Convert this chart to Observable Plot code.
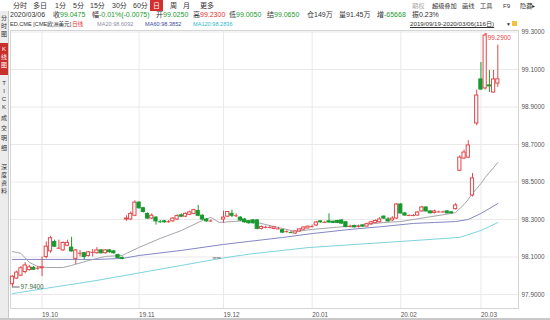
<!DOCTYPE html>
<html><head><meta charset="utf-8">
<script src="https://cdn.jsdelivr.net/npm/d3@7"></script>
<script src="https://cdn.jsdelivr.net/npm/@observablehq/plot@0.6"></script>
<style>
html,body{margin:0;padding:0}
body{width:550px;height:320px;overflow:hidden;background:#fff;position:relative;font-family:"Liberation Sans","Noto Sans CJK SC",sans-serif}
.t{position:absolute;font-size:7px;line-height:8px;white-space:nowrap;color:#333}
.s{font-size:6.2px}
.m{font-size:5.6px}
.g{color:#1a9a2e}.r{color:#e0302e}
#side{position:absolute;left:0;top:11px;width:8px;height:309px;background:#ececec;border-right:1px solid #c8c8c8}
.sv{position:absolute;left:0;width:8px;font-size:6px;line-height:8px;text-align:center;color:#333}
#chart{position:absolute;left:0;top:20px}
#bot{position:absolute;left:0;top:318px;width:550px;height:2px;background:#c8c8c8}
</style></head><body>
<div class="t" style="left:13px;top:2px">分时</div>
<div class="t" style="left:33px;top:2px">多日</div>
<div class="t" style="left:55px;top:2px">1分</div>
<div class="t" style="left:73px;top:2px">5分</div>
<div class="t" style="left:90px;top:2px">15分</div>
<div class="t" style="left:112px;top:2px">30分</div>
<div class="t" style="left:133px;top:2px">60分</div>
<div class="t" style="left:150px;top:0px;width:13px;height:11px;line-height:11px;text-align:center;background:#d42f2f;color:#fff">日</div>
<div class="t" style="left:170px;top:2px">周</div>
<div class="t" style="left:183px;top:2px">月</div>
<div class="t" style="left:200px;top:2px">更多</div>
<div class="t s" style="left:412px;top:2px;color:#aaa">期权</div>
<div class="t s" style="left:432px;top:2px">超级叠加</div>
<div class="t s" style="left:462px;top:2px">画线</div>
<div class="t s" style="left:480px;top:2px">工具</div>
<div class="t s" style="left:503px;top:2px">F9</div>
<div class="t s" style="left:520px;top:2px">隐藏▸</div>

<div class="t" style="left:10px;top:11px">2020/03/06</div>
<div class="t" style="left:53px;top:11px">收<span class="g">99.0475</span></div>
<div class="t" style="left:92px;top:11px">幅<span class="g">-0.01%(-0.0075)</span></div>
<div class="t" style="left:156px;top:11px">开<span class="g">99.0250</span></div>
<div class="t" style="left:193px;top:11px">高<span class="r">99.2300</span></div>
<div class="t" style="left:229px;top:11px">低<span class="g">99.0050</span></div>
<div class="t" style="left:267px;top:11px">结<span class="g">99.0650</span></div>
<div class="t" style="left:307px;top:11px">仓149万</div>
<div class="t" style="left:339px;top:11px">量91.45万</div>
<div class="t" style="left:377px;top:11px">增<span class="g">-65668</span></div>
<div class="t" style="left:412px;top:11px">振0.23%</div>

<div class="t m" style="left:10px;top:20px">ED.CME [CME欧洲美元]</div>
<div class="t m r" style="left:72px;top:20px">日线</div>
<div class="t m" style="left:97px;top:20px;color:#8c8ca8">MA20:98.6092</div>
<div class="t m" style="left:145px;top:20px;color:#3c48a8">MA60:98.3852</div>
<div class="t m" style="left:193px;top:20px;color:#2cb8cc">MA120:98.2836</div>
<div class="t" style="left:410px;top:20px;font-size:6.2px;text-decoration:underline">2019/09/19-2020/03/06(116日)</div>
<div class="t" style="left:506px;top:20px;font-size:5px">▼</div>
<div style="position:absolute;left:512px;top:21px;width:5px;height:5px;background:#f2c23c"></div>

<div id="side">
<div class="sv" style="top:3px">分<br>时<br>图</div>
<div class="sv" style="top:32px;height:30px;padding-top:2px;background:#c8312b;color:#fff">K<br>线<br>图</div>
<div class="sv" style="top:68px">T<br>I<br>C<br>K</div>
<div class="sv" style="top:102px;line-height:10px">成<br>交<br>明<br>细</div>
<div class="sv" style="top:152px">深<br>度<br>资<br>料</div>
</div>
<div id="chart"></div>
<div id="bot"></div>
<script>
// daily candles 2019/09/19 - 2020/03/06 (116 sessions), index 0..115
const open  = [97.955,97.985,98.000,98.020,98.030,98.042,98.040,98.040,98.100,98.130,
98.180,98.145,98.135,98.160,98.150,98.090,98.120,98.120,98.105,98.125,
98.120,98.135,98.120,98.135,98.130,98.110,98.095,98.300,98.300,98.320,
98.390,98.360,98.330,98.305,98.310,98.290,98.290,98.288,98.290,98.300,
98.322,98.315,98.325,98.330,98.345,98.320,98.300,98.292,98.095,98.095,
98.300,98.315,98.330,98.320,98.310,98.300,98.290,98.295,98.295,98.250,
98.258,98.258,98.250,98.250,98.243,98.235,98.232,98.225,98.236,98.246,
98.252,98.262,98.268,98.290,98.285,98.290,98.288,98.292,98.295,98.285,
98.263,98.265,98.262,98.268,98.262,98.275,98.282,98.285,98.315,98.300,
98.295,98.305,98.380,98.332,98.320,98.320,98.321,98.343,98.364,98.343,
98.335,98.340,98.340,98.343,98.338,98.355,98.560,98.625,98.630,98.428,
98.812,99.047,98.999,99.015,98.977,99.025];
const high  = [98.000,98.025,98.050,98.070,98.055,98.050,98.050,98.100,98.180,98.210,
98.190,98.190,98.180,98.190,98.205,98.140,98.135,98.125,98.130,98.140,
98.150,98.140,98.140,98.140,98.135,98.115,98.100,98.320,98.340,98.400,
98.395,98.365,98.335,98.330,98.315,98.295,98.295,98.295,98.310,98.325,
98.330,98.335,98.345,98.355,98.375,98.325,98.305,98.298,98.095,98.095,
98.345,98.340,98.350,98.330,98.315,98.305,98.295,98.300,98.300,98.265,
98.265,98.265,98.262,98.258,98.248,98.240,98.236,98.240,98.250,98.260,
98.265,98.270,98.290,98.292,98.290,98.330,98.292,98.296,98.298,98.290,
98.270,98.270,98.270,98.272,98.280,98.290,98.298,98.310,98.320,98.310,
98.315,98.385,98.385,98.338,98.325,98.326,98.342,98.370,98.368,98.346,
98.350,98.345,98.345,98.346,98.341,98.385,98.640,98.670,98.720,98.545,
98.990,99.137,99.290,99.095,99.095,99.230];
const low   = [97.940,97.980,97.995,98.010,98.025,98.030,98.030,97.995,98.090,98.120,
98.150,98.140,98.130,98.155,98.125,98.060,98.100,98.085,98.100,98.100,
98.115,98.115,98.115,98.120,98.115,98.090,98.085,98.290,98.295,98.315,
98.355,98.335,98.300,98.300,98.270,98.280,98.280,98.280,98.285,98.295,
98.310,98.310,98.320,98.325,98.315,98.295,98.285,98.285,98.095,98.095,
98.280,98.310,98.310,98.310,98.290,98.280,98.275,98.275,98.245,98.245,
98.250,98.250,98.245,98.245,98.225,98.228,98.225,98.220,98.232,98.242,
98.250,98.255,98.262,98.280,98.280,98.280,98.278,98.278,98.275,98.255,
98.255,98.255,98.255,98.258,98.260,98.270,98.280,98.282,98.300,98.285,
98.290,98.300,98.330,98.318,98.315,98.315,98.318,98.340,98.340,98.330,
98.330,98.335,98.335,98.330,98.330,98.350,98.555,98.620,98.625,98.420,
98.800,98.990,98.990,98.977,98.975,99.005];
const close = [97.995,98.017,98.040,98.055,98.045,98.032,98.040,98.045,98.155,98.200,
98.155,98.147,98.175,98.175,98.130,98.135,98.120,98.100,98.125,98.125,
98.135,98.120,98.135,98.125,98.120,98.095,98.090,98.305,98.330,98.390,
98.360,98.340,98.305,98.320,98.290,98.288,98.285,98.288,98.305,98.318,
98.315,98.330,98.338,98.350,98.320,98.300,98.290,98.292,98.095,98.095,
98.310,98.340,98.320,98.320,98.295,98.285,98.280,98.280,98.250,98.260,
98.258,98.258,98.258,98.250,98.230,98.235,98.230,98.236,98.247,98.257,
98.262,98.262,98.284,98.285,98.285,98.284,98.282,98.282,98.278,98.260,
98.263,98.258,98.262,98.262,98.275,98.285,98.292,98.300,98.305,98.290,
98.305,98.380,98.332,98.321,98.321,98.321,98.337,98.364,98.343,98.333,
98.343,98.340,98.340,98.333,98.333,98.375,98.630,98.657,98.695,98.519,
98.961,98.993,99.281,99.010,99.047,99.0475];

const monthIdx = [7, 30, 50, 71, 92, 111];
const monthLabels = ["19.10","19.11","19.12","20.01","20.02","20.03"];
const yTicks = [97.9, 98.1, 98.3, 98.5, 98.7, 98.9, 99.1, 99.3];

// moving averages (index, value)
const ma20Idx = [0,2,4,6,8,12,14,18,22,26,27,30,35,40,45,47,49,52,56,60,64,67,71,76,82,88,92,98,104,105,106,107,108,109,110,111,112,113,114,115];
const ma20    = [98.129,98.119,98.071,98.049,98.044,98.044,98.055,98.081,98.103,98.108,98.119,98.151,98.199,98.241,98.295,98.311,98.284,98.289,98.295,98.273,98.252,98.236,98.247,98.257,98.268,98.284,98.289,98.311,98.332,98.337,98.359,98.380,98.407,98.439,98.465,98.492,98.524,98.551,98.577,98.604];
const ma60Idx = [0,10,20,26,30,40,50,56,64,71,80,88,95,100,105,108,111,115];
const ma60    = [98.087,98.087,98.087,98.092,98.108,98.135,98.167,98.183,98.204,98.225,98.247,98.263,98.279,98.284,98.289,98.300,98.332,98.385];
const ma120Idx = [0,10,20,30,40,50,56,70,90,100,106,111,115];
const ma120    = [97.905,97.940,97.975,98.015,98.055,98.095,98.115,98.150,98.180,98.195,98.205,98.241,98.284];

const UP = "#e2474a", DOWN = "#17992d", FLAT = "#666";
const bars = open.map((o, i) => ({i, o, h: high[i], l: low[i], c: close[i]}));
const isDoji = d => Math.abs(d.c - d.o) < 0.003;
const col = d => d.h === d.l ? FLAT : d.c > d.o ? UP : d.c < d.o ? DOWN : UP;
const bodies = bars.filter(d => !isDoji(d));
const dojis = bars.filter(isDoji);
const hiI = d3.maxIndex(high), loI = d3.minIndex(low);
const line = (idx, vals) => idx.map((x, k) => ({x, v: vals[k]}));

const chart = Plot.plot({
  width: 550, height: 300,
  marginLeft: 10, marginRight: 32, marginTop: 10, marginBottom: 12,
  x: {domain: [-0.474, 119.9], axis: null},
  y: {domain: [97.8253, 99.308], axis: null},
  style: {fontFamily: "'Liberation Sans','Noto Sans CJK SC',sans-serif", background: "transparent", overflow: "visible"},
  marks: [
    Plot.gridY(yTicks, {stroke: "#e9e9e9", strokeOpacity: 1}),
    Plot.gridX(monthIdx, {stroke: "#e9e9e9", strokeOpacity: 1}),
    Plot.frame({stroke: "#d4d4d4"}),
    Plot.axisY({anchor: "right", ticks: yTicks, tickFormat: d3.format(".4f"), tickSize: 0, tickPadding: 3, fontSize: 6.4, fill: "#555"}),
    Plot.axisX({ticks: monthIdx, tickFormat: (d) => monthLabels[monthIdx.indexOf(d)], tickSize: 0, tickPadding: 4, textAnchor: "start", dx: 0, fontSize: 6.4, fill: "#555"}),
    Plot.line(line(ma120Idx, ma120), {x: "x", y: "v", stroke: "#7fd3df", strokeWidth: 1}),
    Plot.line(line(ma60Idx, ma60), {x: "x", y: "v", stroke: "#8488c2", strokeWidth: 1}),
    Plot.line(line(ma20Idx, ma20), {x: "x", y: "v", stroke: "#a4a4ac", strokeWidth: 1}),
    Plot.ruleX(bars, {x: "i", y1: "l", y2: "h", stroke: col, strokeWidth: 1}),
    Plot.rect(bodies, {x1: d => d.i - 0.38, x2: d => d.i + 0.38, y1: d => Math.min(d.o, d.c), y2: d => Math.max(d.o, d.c),
      fill: d => d.c > d.o ? "#fff" : DOWN, stroke: col, strokeWidth: 1}),
    Plot.ruleY(dojis, {y: "c", x1: d => d.i - 0.45, x2: d => d.i + 0.45, stroke: col, strokeWidth: 1}),
    Plot.ruleY([hiI], {y: d => high[d], x1: d => d, x2: d => d + 0.6, stroke: UP}),
    Plot.text([hiI], {x: d => d + 0.6, y: d => high[d], text: d => high[d].toFixed(4), textAnchor: "start", dy: 4, fill: UP, fontSize: 6.4}),
    Plot.ruleY([loI], {y: d => low[d], x1: d => d, x2: d => d + 1.8, stroke: "#666"}),
    Plot.text([loI], {x: d => d + 1.9, y: d => low[d], text: d => low[d].toFixed(4), textAnchor: "start", fill: "#3c6e40", fontSize: 6.4})
  ]
});
document.getElementById("chart").appendChild(chart);
</script>
</body></html>
